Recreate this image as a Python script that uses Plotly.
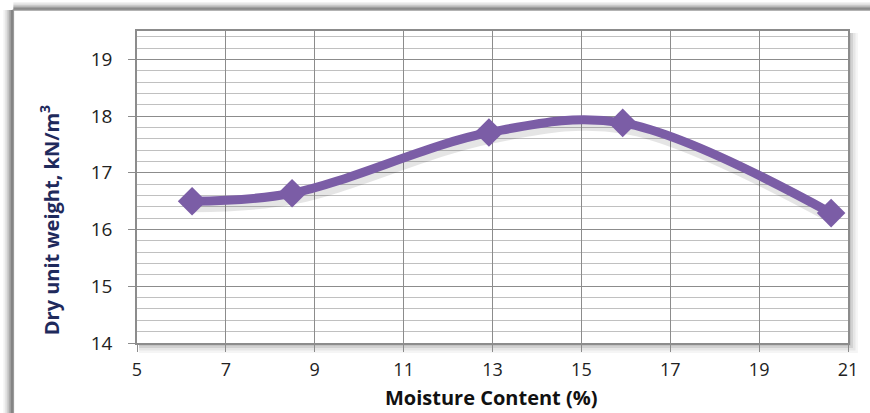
import plotly.graph_objects as go

# Data
moisture = [6.24, 8.49, 12.92, 15.93, 20.62]
dry_unit_weight = [16.50, 16.64, 17.71, 17.88, 16.29]
x_ticks = [5, 7, 9, 11, 13, 15, 17, 19, 21]
y_ticks = [14, 15, 16, 17, 18, 19]

W, H = 870, 413
L, R, T, B = 137, 20, 31, 70
PW, PH = W - L - R, H - T - B

def px(x):
    return (x - L) / PW

def py(y):
    return (H - B - y) / PH

PURPLE = "#7B5DA6"
FONT = "Open Sans"

fig = go.Figure()

# shadow of line (offset slightly)
fig.add_trace(go.Scatter(
    x=[v + 0.05 for v in moisture], y=[v - 0.07 for v in dry_unit_weight],
    mode="lines", line=dict(color="rgba(0,0,0,0.10)", width=14, shape="spline", smoothing=1.0),
    hoverinfo="skip", showlegend=False))

fig.add_trace(go.Scatter(
    x=moisture, y=dry_unit_weight,
    mode="lines+markers",
    line=dict(color=PURPLE, width=9, shape="spline", smoothing=1.0),
    marker=dict(symbol="diamond", size=22, color=PURPLE, line=dict(width=0)),
    showlegend=False))

shapes = []
# outer chart frame shadow (left and top)
for i, a in enumerate([0.05, 0.08, 0.12, 0.18, 0.25]):
    d = 10 - i * 2
    shapes.append(dict(type="rect", xref="paper", yref="paper",
                       x0=px(13 - d), x1=px(13), y0=py(H + 5), y1=py(10),
                       fillcolor=f"rgba(0,0,0,{a})", line=dict(width=0), layer="below"))
    shapes.append(dict(type="rect", xref="paper", yref="paper",
                       x0=px(13), x1=px(W + 5), y0=py(10), y1=py(10 - d * 0.8),
                       fillcolor=f"rgba(0,0,0,{a})", line=dict(width=0), layer="below"))
shapes.append(dict(type="rect", xref="paper", yref="paper",
                   x0=px(13), x1=px(W + 5), y0=py(H + 5), y1=py(10),
                   fillcolor="white", line=dict(color="#9a9a9a", width=1.5), layer="below"))
# plot area shadow (right and bottom)
for i, a in enumerate([0.04, 0.06, 0.09, 0.13]):
    d = 10 - i * 2.5
    shapes.append(dict(type="rect", xref="paper", yref="paper",
                       x0=px(L + 2), x1=px(L + PW + d), y0=py(H - B + d), y1=py(T + 2),
                       fillcolor=f"rgba(0,0,0,{a})", line=dict(width=0), layer="below"))
shapes.append(dict(type="rect", xref="paper", yref="paper",
                   x0=0, x1=1, y0=0, y1=1,
                   fillcolor="white", line=dict(width=0), layer="below"))

fig.update_layout(
    width=W, height=H,
    margin=dict(l=L, r=R, t=T, b=B),
    paper_bgcolor="white",
    plot_bgcolor="rgba(0,0,0,0)",
    shapes=shapes,
    font=dict(family=FONT, color="#222222"),
    xaxis=dict(
        range=[5, 21], tickvals=x_ticks, ticktext=[str(v) for v in x_ticks],
        showgrid=True, gridcolor="#8c8c8c", gridwidth=1,
        showline=True, linecolor="#8c8c8c", linewidth=1.5, mirror=True,
        ticks="outside", ticklen=7, tickcolor="#8c8c8c",
        tickfont=dict(size=18, family=FONT, color="#222222"),
        ticklabelstandoff=3,
        zeroline=False,
    ),
    yaxis=dict(
        range=[14, 19.5], tickvals=y_ticks, ticktext=[str(v) for v in y_ticks],
        showgrid=True, gridcolor="#8c8c8c", gridwidth=1,
        minor=dict(dtick=0.2, showgrid=True, gridcolor="#c0c0c0", gridwidth=1, tick0=14),
        showline=True, linecolor="#8c8c8c", linewidth=1.5, mirror=True,
        ticks="outside", ticklen=7, tickcolor="#8c8c8c",
        tickfont=dict(size=19, family=FONT, color="#222222"),
        ticklabelstandoff=12,
        zeroline=False,
    ),
    annotations=[
        dict(
            text="<b>Dry unit weight, kN/m<sup>3</sup></b>",
            xref="paper", yref="paper", x=px(49), y=py(220),
            textangle=-90, showarrow=False, xanchor="center", yanchor="middle",
            font=dict(size=20, family=FONT, color="#1F2A5C"),
        ),
        dict(
            text="<b>Moisture Content (%)</b>",
            xref="paper", yref="paper", x=px(492), y=py(397),
            showarrow=False, xanchor="center", yanchor="middle",
            font=dict(size=20, family=FONT, color="#111111"),
        ),
    ],
)

fig.write_html("out.html")
